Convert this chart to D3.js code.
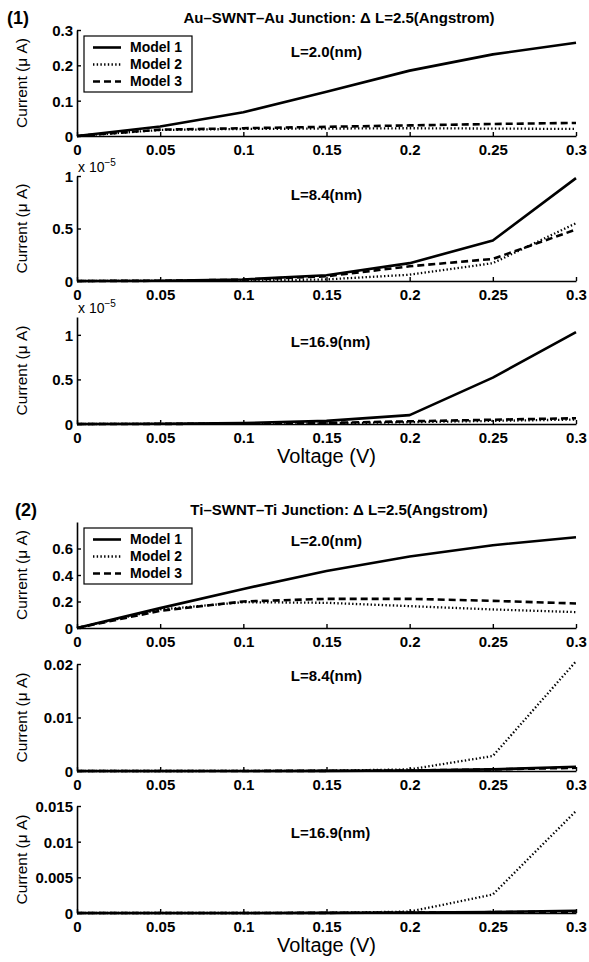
<!DOCTYPE html>
<html>
<head>
<meta charset="utf-8">
<script src="https://cdn.jsdelivr.net/npm/d3@7"></script>
<style>
  body { margin: 0; background: #fff; }
  svg text { font-family: "Liberation Sans", Arial, Helvetica, sans-serif; fill: #000; }
</style>
</head>
<body>
<script>
// bias voltage (V)
const voltage = [0, 0.05, 0.1, 0.15, 0.2, 0.25, 0.3];
const xTicks = [0, 0.05, 0.1, 0.15, 0.2, 0.25, 0.3];
const modelNames = ["Model 1", "Model 2", "Model 3"];
const lengthLabels = ["L=2.0(nm)", "L=8.4(nm)", "L=16.9(nm)"];
const figTitles = ["Au\u2013SWNT\u2013Au Junction: \u0394 L=2.5(Angstrom)", "Ti\u2013SWNT\u2013Ti Junction: \u0394 L=2.5(Angstrom)"];
const figTags = ["(1)", "(2)"];

// Au-SWNT-Au, current in uA (L=8.4 and L=16.9 are x 1e-5)
const auL20Model1 = [0, 0.027, 0.067, 0.125, 0.185, 0.231, 0.264];
const auL20Model2 = [0, 0.017, 0.020, 0.021, 0.022, 0.021, 0.020];
const auL20Model3 = [0, 0.018, 0.022, 0.026, 0.030, 0.034, 0.037];
const auL84Model1 = [0, 0.003, 0.015, 0.055, 0.17, 0.385, 0.98];
const auL84Model2 = [0, 0.001, 0.004, 0.015, 0.06, 0.17, 0.55];
const auL84Model3 = [0, 0.002, 0.012, 0.045, 0.14, 0.21, 0.49];
const auL169Model1 = [0, 0.003, 0.01, 0.035, 0.1, 0.52, 1.03];
const auL169Model2 = [0, 0.001, 0.003, 0.008, 0.02, 0.035, 0.05];
const auL169Model3 = [0, 0.001, 0.004, 0.012, 0.03, 0.048, 0.065];

// Ti-SWNT-Ti, current in uA
const tiL20Model1 = [0, 0.15, 0.295, 0.43, 0.54, 0.625, 0.685];
const tiL20Model2 = [0, 0.14, 0.195, 0.19, 0.165, 0.14, 0.12];
const tiL20Model3 = [0, 0.13, 0.2, 0.22, 0.22, 0.205, 0.185];
const tiL84Model1 = [0, 0, 0.00001, 0.00003, 0.0001, 0.0003, 0.0008];
const tiL84Model2 = [0, 0, 0.00001, 0.00005, 0.0003, 0.0028, 0.0205];
const tiL84Model3 = [0, 0, 0.00001, 0.00003, 0.0001, 0.0003, 0.0006];
const tiL169Model1 = [0, 0, 0, 0.00002, 0.00008, 0.00015, 0.0003];
const tiL169Model2 = [0, 0, 0, 0.00002, 0.0002, 0.0026, 0.0143];
const tiL169Model3 = [0, 0, 0, 0.00002, 0.00006, 0.00012, 0.0002];

// y ticks per panel
const yTicksAuL20 = [0, 0.1, 0.2, 0.3];
const yTicksExp = [0, 0.5, 1];
const yTicksTiL20 = [0, 0.2, 0.4, 0.6];
const yTicksTiL84 = [0, 0.01, 0.02];
const yTicksTiL169 = [0, 0.005, 0.01, 0.015];

const width = 589, height = 962;
const left = 77, right = 576;
const figOffset = 492;

// layout
const panels = [
  { top: 30, bottom: 136, yMax: 0.3, ticks: yTicksAuL20, series: [auL20Model1, auL20Model2, auL20Model3], label: lengthLabels[0], labelAt: 0.238, legend: true },
  { top: 176, bottom: 281, yMax: 1, ticks: yTicksExp, series: [auL84Model1, auL84Model2, auL84Model3], label: lengthLabels[1], labelAt: 0.82, exp: true },
  { top: 317, bottom: 424, yMax: 1.2, ticks: yTicksExp, series: [auL169Model1, auL169Model2, auL169Model3], label: lengthLabels[2], labelAt: 0.92, exp: true, xTitle: true },
  { top: 522, bottom: 628, yMax: 0.8, ticks: yTicksTiL20, series: [tiL20Model1, tiL20Model2, tiL20Model3], label: lengthLabels[0], labelAt: 0.655, legend: true },
  { top: 664, bottom: 771, yMax: 0.02, ticks: yTicksTiL84, series: [tiL84Model1, tiL84Model2, tiL84Model3], label: lengthLabels[1], labelAt: 0.0178 },
  { top: 806, bottom: 913, yMax: 0.015, ticks: yTicksTiL169, series: [tiL169Model1, tiL169Model2, tiL169Model3], label: lengthLabels[2], labelAt: 0.0113, xTitle: true }
];

const styles = [
  { width: 2.6, dash: null },
  { width: 2.3, dash: "1.4,2.3" },
  { width: 2.6, dash: "7,4" }
];

const svg = d3.select("body").append("svg")
  .attr("width", width)
  .attr("height", height);

const x = d3.scaleLinear().domain([0, 0.3]).range([left, right]);
const fmt = d3.format("~g");

// figure tags + titles
figTags.forEach((t, i) => {
  svg.append("text")
    .attr("x", i == 0 ? 7 : 15)
    .attr("y", 24 + i * figOffset)
    .attr("font-size", 18)
    .attr("font-weight", "bold")
    .text(t);
  svg.append("text")
    .attr("x", 339)
    .attr("y", 23 + i * figOffset)
    .attr("text-anchor", "middle")
    .attr("font-size", 15)
    .attr("font-weight", "bold")
    .text(figTitles[i]);
});

panels.forEach(p => {
  const g = svg.append("g");
  const y = d3.scaleLinear().domain([0, p.yMax]).range([p.bottom, p.top]);

  const line = d3.line()
    .x((d, i) => x(voltage[i]))
    .y(d => y(d));

  p.series.forEach((s, k) => {
    g.append("path")
      .datum(s)
      .attr("fill", "none")
      .attr("stroke", "#000")
      .attr("stroke-width", styles[k].width)
      .attr("stroke-dasharray", styles[k].dash)
      .attr("stroke-linejoin", "round")
      .attr("d", line);
  });

  const xAxis = g.append("g")
    .attr("transform", `translate(0,${p.bottom})`)
    .call(d3.axisBottom(x).tickValues(xTicks).tickFormat(fmt)
      .tickSizeInner(-4).tickSizeOuter(0).tickPadding(8));
  const yAxis = g.append("g")
    .attr("transform", `translate(${left},0)`)
    .call(d3.axisLeft(y).tickValues(p.ticks).tickFormat(fmt)
      .tickSizeInner(-4).tickSizeOuter(0).tickPadding(4));

  [xAxis, yAxis].forEach(a => {
    a.select(".domain").attr("stroke-width", 1.6);
    a.selectAll(".tick line").attr("stroke-width", 1.4);
    a.selectAll("text")
      .attr("font-size", 15)
      .attr("font-weight", "bold")
      .attr("font-family", null)
      .attr("fill", "#000");
  });
  yAxis.selectAll(".tick text").attr("dy", "0.36em");

  // y title
  g.append("text")
    .attr("transform", `translate(22,${(p.top + p.bottom) / 2}) rotate(-90)`)
    .attr("text-anchor", "middle")
    .attr("dy", "0.35em")
    .attr("font-size", 15.5)
    .text("Current (\u03bc A)");

  // x 10^-5 multiplier
  if (p.exp) {
    const t = g.append("text")
      .attr("x", left + 1)
      .attr("y", p.top - 4)
      .attr("font-size", 14);
    t.append("tspan").text("x 10");
    t.append("tspan").attr("dy", -6).attr("font-size", 10).text("\u22125");
  }

  g.append("text")
    .attr("x", x(0.1285))
    .attr("y", y(p.labelAt))
    .attr("dy", "0.35em")
    .attr("font-size", 15)
    .attr("font-weight", "bold")
    .text(p.label);

  if (p.xTitle) {
    g.append("text")
      .attr("x", (left + right) / 2)
      .attr("y", p.bottom + 39)
      .attr("text-anchor", "middle")
      .attr("font-size", 20)
      .text("Voltage (V)");
  }

  if (p.legend) {
    const lg = g.append("g").attr("transform", `translate(84,${p.top + 6})`);
    lg.append("rect")
      .attr("width", 108).attr("height", 56)
      .attr("fill", "#fff").attr("stroke", "#000").attr("stroke-width", 1.2);
    modelNames.forEach((m, k) => {
      const ry = 11.5 + k * 17;
      lg.append("line")
        .attr("x1", 9).attr("x2", 37).attr("y1", ry).attr("y2", ry)
        .attr("stroke", "#000")
        .attr("stroke-width", styles[k].width)
        .attr("stroke-dasharray", styles[k].dash);
      lg.append("text")
        .attr("x", 46).attr("y", ry)
        .attr("dy", "0.35em")
        .attr("font-size", 14)
        .attr("font-weight", "bold")
        .text(m);
    });
  }
});
</script>
</body>
</html>
